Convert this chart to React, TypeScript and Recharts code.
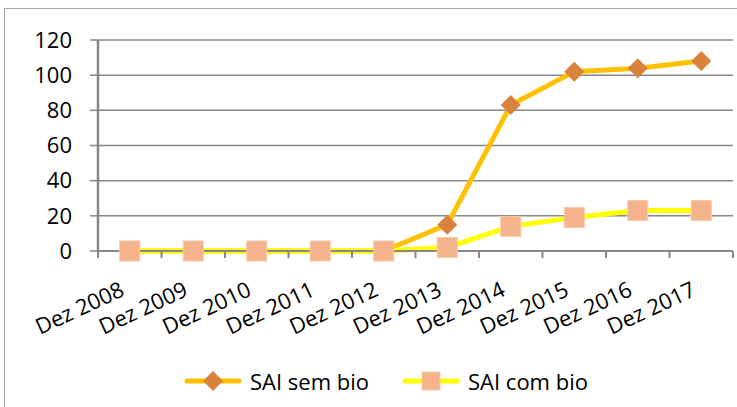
import { LineChart, Line, XAxis, YAxis, CartesianGrid, Legend } from 'recharts'

const categories = [
  'Dez 2008', 'Dez 2009', 'Dez 2010', 'Dez 2011', 'Dez 2012',
  'Dez 2013', 'Dez 2014', 'Dez 2015', 'Dez 2016', 'Dez 2017',
]
const semBio = [0, 0, 0, 0, 0, 15, 83, 102, 104, 108]
const comBio = [0, 0, 0, 0, 0, 2, 14, 19, 23, 23]
const yTicks = [0, 20, 40, 60, 80, 100, 120]

const W = 737
const H = 407
const Y_AXIS_W = 98
const MARGIN = { top: 40, right: 4, bottom: 11, left: 0 }
const FONT = '"Open Sans", "Noto Sans", sans-serif'
const GRID = '#878787'
const SEM_LINE = '#FFC000'
const SEM_DOT = '#D9823B'
const COM_LINE = '#FFFF00'
const COM_DOT = '#F5B38C'

const data = categories.map((c, i) => ({ name: c, sem: semBio[i], com: comBio[i] }))
const halfBand = (W - Y_AXIS_W - MARGIN.right) / categories.length / 2

function Diamond({ cx, cy, r = 10 }: { cx: number; cy: number; r?: number }) {
  return <path d={`M${cx},${cy - r}L${cx + r},${cy}L${cx},${cy + r}L${cx - r},${cy}Z`} fill={SEM_DOT} />
}

function Square({ cx, cy, s = 10 }: { cx: number; cy: number; s?: number }) {
  return <rect x={cx - s} y={cy - s} width={s * 2} height={s * 2} fill={COM_DOT} stroke="#F8C8A8" strokeWidth={1} />
}

function XTick(props: any) {
  const { x, y, payload, index } = props
  const tx = x - 4
  const ty = y + 44
  return (
    <g>
      <line x1={x - halfBand} y1={y} x2={x - halfBand} y2={y + 7} stroke={GRID} strokeWidth={2} />
      {index === categories.length - 1 && (
        <line x1={x + halfBand} y1={y} x2={x + halfBand} y2={y + 7} stroke={GRID} strokeWidth={2} />
      )}
      <text x={tx} y={ty} textAnchor="end" fontSize={22} fontFamily={FONT} fill="#000"
        transform={`rotate(-25, ${tx}, ${ty})`}>
        {payload.value}
      </text>
    </g>
  )
}

function LegendContent() {
  const item = (label: string, color: string, marker: React.ReactNode) => (
    <div style={{ display: 'flex', alignItems: 'center' }}>
      <svg width={58} height={24}>
        <line x1={3} y1={12} x2={55} y2={12} stroke={color} strokeWidth={5} strokeLinecap="round" />
        {marker}
      </svg>
      <span style={{ marginLeft: 8, fontSize: 22, fontFamily: FONT, color: '#000' }}>{label}</span>
    </div>
  )
  return (
    <div style={{ display: 'flex', alignItems: 'center', height: 30, paddingLeft: 184, gap: 33 }}>
      {item('SAI sem bio', SEM_LINE, <Diamond cx={29} cy={12} r={10} />)}
      {item('SAI com bio', COM_LINE, <Square cx={29} cy={12} s={9} />)}
    </div>
  )
}

export default function App() {
  return (
    <div style={{ position: 'absolute', left: 0, top: 0, width: W, height: H, overflow: 'hidden', background: '#fff' }}>
      <div style={{ position: 'absolute', left: 4, top: 8, width: 900, height: 600, borderLeft: '1px solid #a6a6a6', borderTop: '1px solid #a6a6a6' }} />
      <div style={{ position: 'absolute', left: 0, top: 0 }}>
        <LineChart width={W} height={H} data={data} margin={MARGIN}>
          <CartesianGrid vertical={false} stroke={GRID} strokeWidth={1.5} />
          <XAxis
            dataKey="name"
            scale="band"
            height={115}
            interval={0}
            tickSize={0}
            tickMargin={0}
            tickLine={false}
            axisLine={{ stroke: GRID, strokeWidth: 2 }}
            tick={<XTick />}
          />
          <YAxis
            width={Y_AXIS_W}
            domain={[0, 120]}
            ticks={yTicks}
            interval={0}
            tickSize={8}
            tickMargin={18}
            tickLine={{ stroke: GRID, strokeWidth: 1.5 }}
            axisLine={{ stroke: GRID, strokeWidth: 2.5 }}
            tick={{ fontSize: 22, fontFamily: FONT, fill: '#000' }}
          />
          <Legend verticalAlign="bottom" content={<LegendContent />} wrapperStyle={{ height: 30 }} />
          <Line
            dataKey="sem"
            stroke={SEM_LINE}
            strokeWidth={5}
            isAnimationActive={false}
            dot={(p: any) => <Diamond key={`d${p.index}`} cx={p.cx} cy={p.cy} />}
            activeDot={false}
          />
          <Line
            dataKey="com"
            stroke={COM_LINE}
            strokeWidth={5}
            isAnimationActive={false}
            dot={(p: any) => <Square key={`s${p.index}`} cx={p.cx} cy={p.cy} />}
            activeDot={false}
          />
        </LineChart>
      </div>
    </div>
  )
}
